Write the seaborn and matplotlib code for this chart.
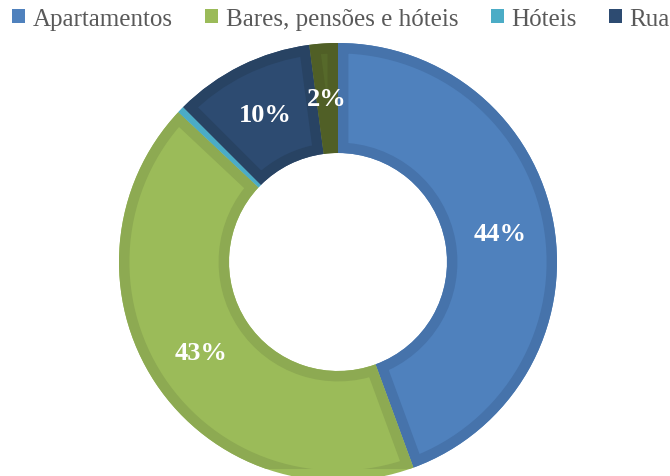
import matplotlib
matplotlib.use("Agg")
import matplotlib.pyplot as plt
from matplotlib.patches import Patch, Wedge
import seaborn as sns

# share of occurrences by place
categories = ["Apartamentos", "Bares, pensões e hóteis", "Hóteis", "Rua", "Outros"]
shares = [44.4, 42.6, 0.5, 10.4, 2.1]
legend_labels = ["Apartamentos", "Bares, pensões e hóteis", "Hóteis", "Rua"]

FACE = ["#4F81BD", "#9BBB59", "#4BACC6", "#2D4B71", "#56692A"]
EDGE = ["#4673AB", "#8DAA52", "#4BACC6", "#284363", "#505F26"]

sns.set_style("white")
plt.rcParams["font.family"] = ["Liberation Serif", "DejaVu Serif"]

W, H = 670, 477
fig = plt.figure(figsize=(W / 100, H / 100), dpi=100)
# axes in pixel units, bottom of the plot area sits a few px above the edge
ax = fig.add_axes([0, 7 / H, 1, (H - 7) / H])

R = 219
wedges, texts, autotexts = ax.pie(
    shares,
    colors=FACE,
    startangle=90,
    counterclock=False,
    radius=R,
    center=(338, H - 263),
    autopct=lambda p: f"{p:.0f}%" if p >= 1.5 else "",
    pctdistance=0.75,
    wedgeprops=dict(width=110, linewidth=0),
    textprops=dict(color="white", fontsize=19, fontweight="bold"),
    frame=True,
)
ax.axis("off")
ax.set_xlim(0, W)
ax.set_ylim(7, H)
ax.set_aspect("equal")

# darker inner border on each slice (bevel look): thick outline clipped to the slice
for w, ec in zip(wedges, EDGE):
    border = Wedge(w.center, w.r, w.theta1, w.theta2, width=w.width,
                   facecolor="none", edgecolor=ec, linewidth=15, zorder=w.get_zorder() + 0.1)
    ax.add_patch(border)
    border.set_clip_path(w)
for t in autotexts:
    t.set_zorder(5)

handles = [Patch(facecolor=c, edgecolor="none") for c in FACE[:4]]
fig.legend(
    handles, legend_labels,
    loc="upper left", bbox_to_anchor=(12 / W, 1 - 9 / H),
    ncol=4, frameon=False, fontsize=18,
    handlelength=0.52, handleheight=0.52, handletextpad=0.3,
    columnspacing=1.3, borderpad=0, borderaxespad=0,
    labelcolor="#595959",
)

fig.savefig("out.png", dpi=100)
